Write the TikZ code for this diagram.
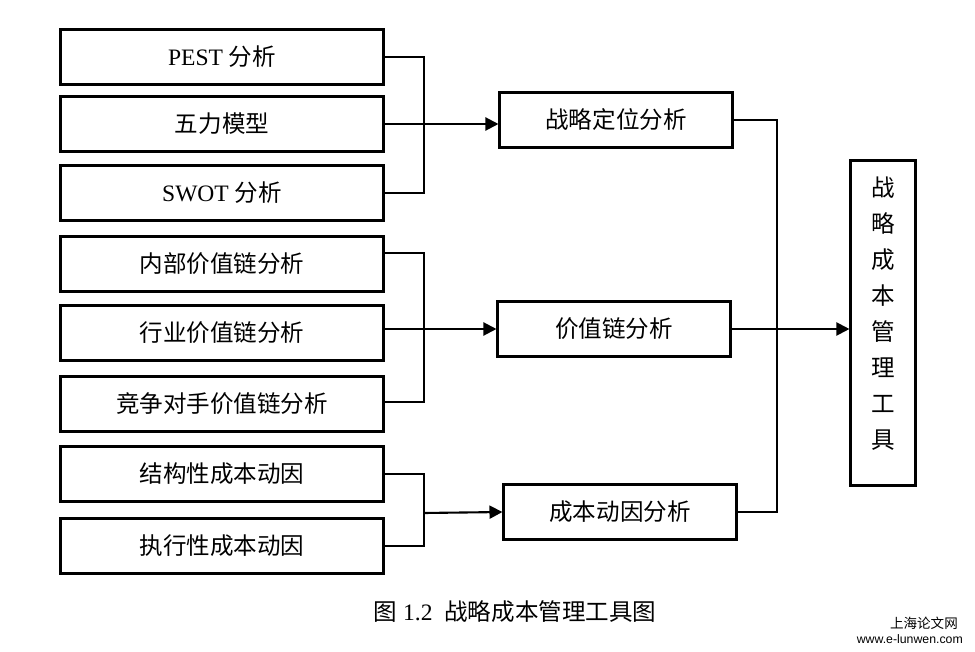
\documentclass[tikz,border=0pt]{standalone}
\usepackage{fontspec}
\setmainfont{Liberation Serif}
\newfontfamily\cjk{Noto Sans CJK SC}
\newfontfamily\wmsans{Liberation Sans}
\usepackage{tikz}
\usetikzlibrary{arrows.meta}

\newcommand{\zh}[1]{{\cjk #1}}

\begin{document}
\begin{tikzpicture}[x = .02cm, y = -.02cm,
  every node/.style = {font = \fontsize{13.4}{16}\selectfont},
  srcbox/.style = {draw, line width = 1.2pt, minimum width = 6.46cm, minimum height = 1.1cm, inner sep = 0},
  midbox/.style = {draw, line width = 1.2pt, minimum width = 4.66cm, minimum height = 1.1cm, inner sep = 0},
  link/.style = {line width = 1.2pt},
  tip/.style = {link, -{Triangle[length = 2.6mm, width = 2.6mm]}}]
 \useasboundingbox (0, 0) rectangle (975, 652);
  % left column
  \node [srcbox] (pest) at (222, 57) {PEST \zh{分析}};
  \node [srcbox] (wuli) at (222, 124) {\zh{五力模型}};
  \node [srcbox] (swot) at (222, 193) {SWOT \zh{分析}};
  \node [srcbox] (neibu) at (222, 264) {\zh{内部价值链分析}};
  \node [srcbox] (hangye) at (222, 333) {\zh{行业价值链分析}};
  \node [srcbox] (jingzheng) at (222, 404) {\zh{竞争对手价值链分析}};
  \node [srcbox] (jiegou) at (222, 474) {\zh{结构性成本动因}};
  \node [srcbox] (zhixing) at (222, 546) {\zh{执行性成本动因}};
  % middle column
  \node [midbox] (dingwei) at (616, 120) {\zh{战略定位分析}};
  \node [midbox] (jiazhi) at (614, 329) {\zh{价值链分析}};
  \node [midbox] (dongyin) at (620, 512) {\zh{成本动因分析}};
  % right box
  \node [draw, line width = 1.2pt, minimum width = 1.3cm, minimum height = 6.5cm, inner sep = 0] (tool) at (883, 323) {};
  \node [align = center, inner sep = 0, font = \cjk\fontsize{13.4}{20.5}\selectfont] (toolname) at (883, 314) {战\\略\\成\\本\\管\\理\\工\\具};
  % brackets
  \coordinate (b1) at (424, 124);
  \coordinate (b2) at (424, 329);
  \coordinate (b3) at (424, 513);
  \coordinate (b4) at (777, 329);
  \coordinate (n1) at (384, 253);
  \draw [link] (pest.east) -| (b1) |- (swot.east);
  \draw [link] (n1) -| (b2) |- ([yshift = 1pt]jingzheng.east);
  \draw [link] (jiegou.east) -| (b3) |- (zhixing.east);
  \draw [link] (dingwei.east) -| (b4) |- (dongyin.east);
  % arrows
  \draw [tip] (wuli.east) -- (wuli.east -| dingwei.west);
  \draw [tip] (hangye.east |- jiazhi.west) -- (jiazhi.west);
  \draw [tip] (b3) -- (dongyin.west);
  \draw [tip] (jiazhi.east) -- (jiazhi.east -| tool.west);
  % caption
  \node (caption) at (515, 612) {\zh{图} 1.2\ \ \zh{战略成本管理工具图}};
  \node [anchor = east, font = \cjk\fontsize{7.7}{9}\selectfont] (wm1) at (964, 623) {上海论文网};
  \node [anchor = east, font = \wmsans\fontsize{7}{9}\selectfont] (wm2) at (969, 639) {www.e-lunwen.com};
 \end{tikzpicture}
\end{document}
